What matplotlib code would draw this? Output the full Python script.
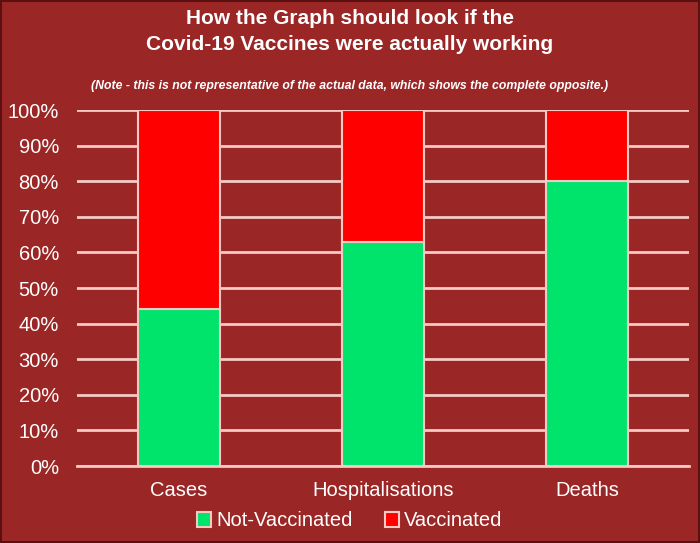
import numpy as np
import matplotlib
matplotlib.use('Agg')
import matplotlib.pyplot as plt

categories = ['Cases', 'Hospitalisations', 'Deaths']
not_vaccinated = [44, 63, 80]
vaccinated = [56, 37, 20]
yticks = [0, 10, 20, 30, 40, 50, 60, 70, 80, 90, 100]

bg = '#9b2626'
grid = '#f7c9c4'
green = '#00e46c'
red = '#ff0000'

plt.rcParams['font.family'] = ['Liberation Sans', 'DejaVu Sans']

fig = plt.figure(figsize=(7, 5.43), dpi=100, facecolor=bg,
                 edgecolor='#5a1010', linewidth=1.5)
ax = fig.add_axes([77 / 700, 1 - 466 / 543, 612 / 700, 356 / 543])
ax.set_facecolor(bg)

x = np.arange(len(categories))
ax.bar(x, not_vaccinated, width=0.4, color=green, edgecolor=grid,
       linewidth=1.5, label='Not-Vaccinated', zorder=3)
ax.bar(x, vaccinated, width=0.4, bottom=not_vaccinated, color=red,
       edgecolor=grid, linewidth=1.5, label='Vaccinated', zorder=3)

ax.set_xlim(-0.5, 2.5)
ax.set_ylim(0, 100)
ax.set_yticks(yticks)
ax.set_yticklabels([f'{v}%' for v in yticks])
ax.set_xticks(x)
ax.set_xticklabels(categories)
ax.tick_params(axis='both', length=0, labelsize=14.5, colors='white')
ax.tick_params(axis='y', pad=13)
ax.tick_params(axis='x', pad=11)
ax.yaxis.grid(True, color=grid, linewidth=2, zorder=0)
for s in ['left', 'right', 'top']:
    ax.spines[s].set_visible(False)
ax.spines['bottom'].set_color(grid)
ax.spines['bottom'].set_linewidth(2)

fig.text(0.5, 1 - 18 / 543, 'How the Graph should look if the',
         ha='center', va='center', color='white', fontsize=15,
         fontweight='bold')
fig.text(0.5, 1 - 45 / 543, 'Covid-19 Vaccines were actually working',
         ha='center', va='center', color='white', fontsize=15,
         fontweight='bold')
fig.text(0.5, 1 - 86 / 543,
         '(Note - this is not representative of the actual data, which shows the complete opposite.)',
         ha='center', va='center', color='white', fontsize=8.8,
         fontweight='bold', style='italic')

leg = fig.legend(loc='center', bbox_to_anchor=(0.5, 1 - 521 / 543), ncol=2,
                 frameon=False, fontsize=14.5, handlelength=0.7, handleheight=0.7,
                 handletextpad=0.25, columnspacing=1.6, labelcolor='white')

fig.savefig('out.png', dpi=100, facecolor=bg, edgecolor='#5a1010')
